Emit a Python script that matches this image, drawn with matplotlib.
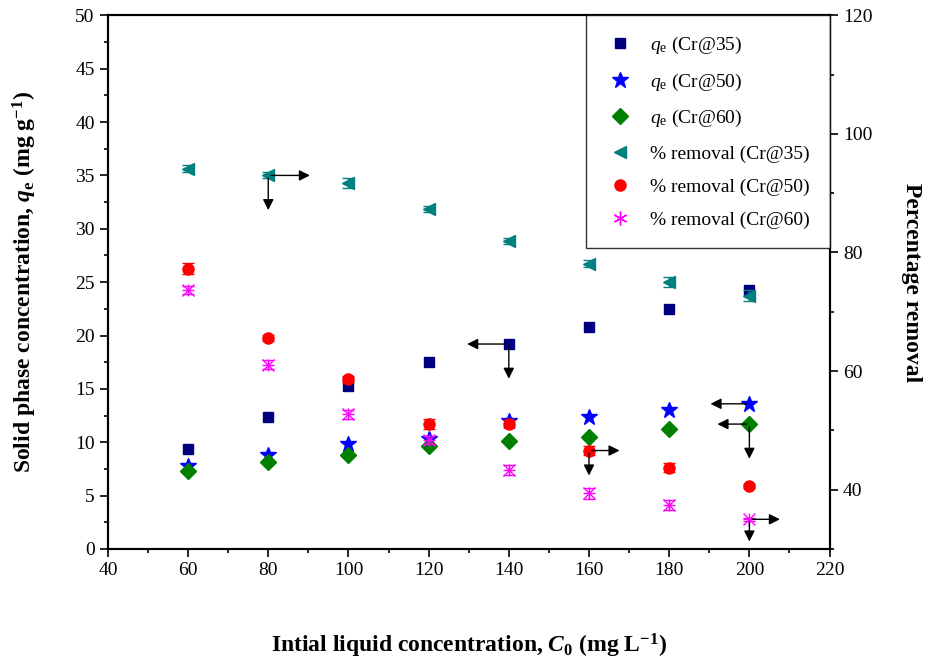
import numpy as np
import matplotlib
matplotlib.use('Agg')
import matplotlib.pyplot as plt
from matplotlib.ticker import MultipleLocator
from matplotlib.lines import Line2D

#-----------------------------------------
# data
#-----------------------------------------
conc = [60, 80, 100, 120, 140, 160, 180, 200]

qe_cr35 = [9.4, 12.4, 15.3, 17.5, 19.2, 20.8, 22.5, 24.3]
qe_cr50 = [7.8, 8.8, 9.8, 10.3, 12.0, 12.4, 13.0, 13.6]
qe_cr60 = [7.3, 8.1, 8.8, 9.6, 10.1, 10.5, 11.2, 11.7]

rem_cr35 = [94.1, 93.0, 91.7, 87.4, 82.0, 78.1, 75.0, 72.7]
rem_cr50 = [77.3, 65.6, 58.6, 51.1, 51.1, 46.6, 43.7, 40.6]
rem_cr60 = [73.7, 61.1, 52.7, 48.4, 43.3, 39.4, 37.4, 35.0]

rem_err35 = [0.6, 0.5, 0.8, 0.5, 0.5, 0.6, 0.8, 0.9]
rem_err50 = [0.9, 0.5, 0.5, 0.8, 0.6, 0.7, 0.8, 0.4]
rem_err60 = [0.7, 0.8, 0.8, 0.7, 0.9, 0.9, 0.9, 0.3]

plt.rcParams['font.family'] = 'Liberation Serif'
plt.rcParams['mathtext.fontset'] = 'custom'
plt.rcParams['mathtext.rm'] = 'Liberation Serif'
plt.rcParams['mathtext.it'] = 'Liberation Serif:italic'
plt.rcParams['mathtext.bf'] = 'Liberation Serif:bold:italic'
plt.rcParams['mathtext.sf'] = 'Liberation Serif:bold'

fig = plt.figure(figsize=(9.3, 6.67), dpi=100)
ax = fig.add_axes([0.116, 0.177, 0.776, 0.8])
ax2 = ax.twinx()

ms = 7
c35, c50, c60 = '#000080', '#0000ff', '#008000'
r35, r50, r60 = '#008080', '#ff0000', '#ff00ff'

ax.plot(conc, qe_cr35, 's', color=c35, ms=ms)
ax.plot(conc, qe_cr50, '*', color=c50, ms=ms + 5)
ax.plot(conc, qe_cr60, 'D', color=c60, ms=ms + 1)

ax2.errorbar(conc, rem_cr35, yerr=rem_err35, fmt='<', color=r35, ms=ms + 2,
             capsize=4, elinewidth=1)
ax2.errorbar(conc, rem_cr50, yerr=rem_err50, fmt='o', color=r50, ms=ms + 1,
             capsize=4, elinewidth=1)
ax2.errorbar(conc, rem_cr60, yerr=rem_err60, fmt='x', color=r60, ms=ms + 1,
             mew=1, capsize=4, elinewidth=1)
ax2.plot(conc, rem_cr60, '+', color=r60, ms=ms + 2, mew=1)

ax.set_xlim(40, 220)
ax.set_ylim(0, 50)
ax2.set_ylim(30, 120)

ax.xaxis.set_major_locator(MultipleLocator(20))
ax.xaxis.set_minor_locator(MultipleLocator(10))
ax.yaxis.set_major_locator(MultipleLocator(5))
ax.yaxis.set_minor_locator(MultipleLocator(2.5))
ax2.yaxis.set_major_locator(MultipleLocator(20))
ax2.yaxis.set_minor_locator(MultipleLocator(10))

ax.tick_params(which='major', direction='out', length=6, width=1.2, labelsize=14, top=False)
ax.tick_params(which='minor', direction='out', length=3, width=1.2, top=False)
ax2.tick_params(which='major', direction='out', length=6, width=1.2, labelsize=14)
ax2.tick_params(which='minor', direction='out', length=3, width=1.2)
for a in (ax, ax2):
    for s in a.spines.values():
        s.set_linewidth(1.5)

ax.set_xlabel(r'Intial liquid concentration, $\mathbf{C}_\mathsf{0}$ (mg L$^\mathsf{-1}$)',
              fontsize=17, fontweight='bold', labelpad=38)
ax.set_ylabel(r'Solid phase concentration, $\mathbf{q}_\mathsf{e}$ (mg g$^\mathsf{-1}$)',
              fontsize=17, fontweight='bold', labelpad=26)
ax2.set_ylabel('Percentage removal', fontsize=17, fontweight='bold', rotation=270, labelpad=36)

# arrows pointing to the axis each series belongs to
arr = dict(arrowstyle='-|>', color='black', lw=1, mutation_scale=16)

def arrow(a, x, y, dx, dy):
    # arrow from the data point (x, y) by (dx, dy) points
    px, py = a.transData.transform((x, y))
    tx, ty = px + dx * fig.dpi / 72, py + dy * fig.dpi / 72
    a.annotate('', xy=(tx, ty), xycoords='figure pixels', xytext=(px, py),
               textcoords='figure pixels', arrowprops=arr)

arrow(ax2, conc[1], rem_cr35[1], 32, 0)
arrow(ax2, conc[1], rem_cr35[1], 0, -27)
arrow(ax, conc[4], qe_cr35[4], -32, 0)
arrow(ax, conc[4], qe_cr35[4], 0, -27)
arrow(ax, conc[7], qe_cr50[7], -30, 0)
arrow(ax, conc[7], qe_cr60[7], -25, 0)
arrow(ax, conc[7], qe_cr60[7], 0, -27)
arrow(ax2, conc[5], rem_cr50[5], 24, 0)
arrow(ax2, conc[5], rem_cr50[5], 0, -20)
arrow(ax2, conc[7], rem_cr60[7], 24, 0)
arrow(ax2, conc[7], rem_cr60[7], 0, -18)

handles = [
    Line2D([], [], ls='none', marker='s', color=c35, ms=ms),
    Line2D([], [], ls='none', marker='*', color=c50, ms=ms + 5),
    Line2D([], [], ls='none', marker='D', color=c60, ms=ms + 1),
    Line2D([], [], ls='none', marker='<', color=r35, ms=ms + 2),
    Line2D([], [], ls='none', marker='o', color=r50, ms=ms + 1),
    Line2D([], [], ls='none', marker=(6, 2, 0), color=r60, ms=ms + 3, mew=1),
]
labels = [r'$q_\mathrm{e}$ (Cr@35)', r'$q_\mathrm{e}$ (Cr@50)', r'$q_\mathrm{e}$ (Cr@60)',
          '% removal (Cr@35)', '% removal (Cr@50)', '% removal (Cr@60)']
leg = ax2.legend(handles, labels, loc='upper right', bbox_to_anchor=(1.0, 1.0),
                 fontsize=14, frameon=True, fancybox=False, edgecolor='black',
                 borderaxespad=0.0, labelspacing=0.8, handletextpad=0.8,
                 borderpad=1.0, handlelength=1.5)
leg.get_frame().set_linewidth(1)

fig.savefig('out.png', dpi=100)
